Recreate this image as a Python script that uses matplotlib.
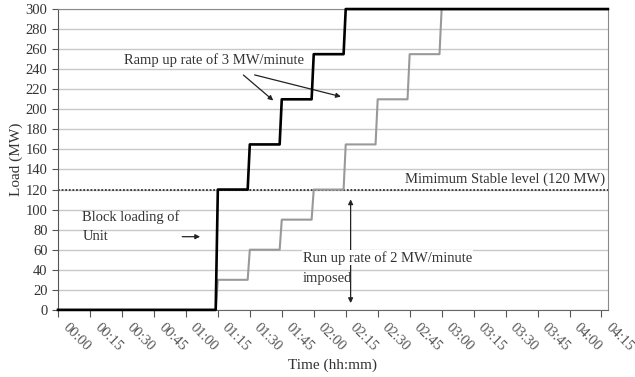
import numpy as np
import matplotlib.pyplot as plt
import matplotlib.transforms as mtransforms

# times in minutes after 00:00 at which each new load level is reached
black_reach = [75, 90, 105, 120, 135]
black_level = [120, 165, 210, 255, 300]
gray_reach = [75, 90, 105, 120, 135, 150, 165, 180]
gray_level = [30, 60, 90, 120, 165, 210, 255, 300]

tick_min = np.arange(0, 256, 15)
tick_labels = ['%02d:%02d' % (m // 60, m % 60) for m in tick_min]
min_stable = 120
x_end = 258
ramp = 1.0


def step_path(reach, level):
    xs, ys = [0], [0]
    prev = 0
    for t, lv in zip(reach, level):
        xs += [t - ramp, t]
        ys += [prev, lv]
        prev = lv
    xs.append(x_end)
    ys.append(prev)
    return xs, ys


plt.rcParams['font.family'] = ['Liberation Serif', 'DejaVu Serif']

fig = plt.figure(figsize=(6.35, 3.77), dpi=100)
ax = fig.add_axes([0.0913, 0.178, 0.866, 0.798])

ax.set_yticks(np.arange(0, 301, 20))
ax.grid(axis='y', color='#c8c8c8', linewidth=1.0)
ax.set_axisbelow(True)

gx, gy = step_path(gray_reach, gray_level)
bx, by = step_path(black_reach, black_level)
ax.plot(gx, gy, color='#999999', linewidth=1.5, clip_on=False, zorder=3)
ax.plot(bx, by, color='black', linewidth=1.9, clip_on=False, zorder=4)
ax.plot([0, x_end], [min_stable, min_stable], color='#333333', linestyle=(0, (1, 1)),
        linewidth=1.3, zorder=2)

ax.set_xlim(0, x_end)
ax.set_ylim(0, 300)
ax.set_xticks(tick_min)
ax.set_xticklabels([])
# rotated tick labels placed just below and right of each tick
lab_tr = ax.get_xaxis_transform() + mtransforms.ScaledTranslation(2 / 100, -11 / 100,
                                                                  fig.dpi_scale_trans)
for m, lab in zip(tick_min, tick_labels):
    ax.text(m, 0, lab, transform=lab_tr, rotation=-45, ha='left', va='top',
            fontsize=10.5, color='#555555', clip_on=False)
ax.tick_params(axis='x', direction='out', length=5, color='#555555')
ax.tick_params(axis='y', direction='out', length=4, color='#555555', labelsize=10.5,
               colors='#333333')
for side in ['top', 'right']:
    ax.spines[side].set_color('#8a8a8a')
ax.spines['left'].set_color('#555555')
ax.spines['bottom'].set_color('#666666')

ax.text(0.5, -0.16, 'Time (hh:mm)', transform=ax.transAxes, fontsize=11, color='#333333',
        ha='center', va='top')
ax.set_ylabel('Load (MW)', fontsize=11, color='#333333', labelpad=2)

fs = 10.5
ax.text(73, 249, 'Ramp up rate of 3 MW/minute', fontsize=fs, ha='center', va='center',
        color='#333333')
aprops = dict(arrowstyle='-|>', color='#222222', lw=0.9, mutation_scale=7)
ax.annotate('', xy=(102, 207), xytext=(86, 236), arrowprops=aprops)
ax.annotate('', xy=(134, 212), xytext=(91, 235), arrowprops=aprops)

ax.text(256.5, 124, 'Mimimum Stable level (120 MW)', fontsize=fs, ha='right', va='bottom',
        color='#333333')
ax.text(11.5, 93, 'Block loading of', fontsize=fs, ha='left', va='center', color='#333333')
ax.text(11.5, 73, 'Unit', fontsize=fs, ha='left', va='center', color='#333333')
ax.annotate('', xy=(68, 73), xytext=(57, 73), arrowprops=aprops)

ax.annotate('', xy=(137.3, 113), xytext=(137.3, 4),
            arrowprops=dict(arrowstyle='<|-|>', color='#222222', lw=0.9, mutation_scale=7))
bbox = dict(facecolor='white', edgecolor='none', pad=0.5)
ax.text(115, 52, 'Run up rate of 2 MW/minute', fontsize=fs, ha='left', va='center',
        color='#333333', bbox=bbox, zorder=5)
ax.text(115, 31, 'imposed', fontsize=fs, ha='left', va='center', color='#333333', zorder=5)

fig.savefig('out.png', dpi=100)
